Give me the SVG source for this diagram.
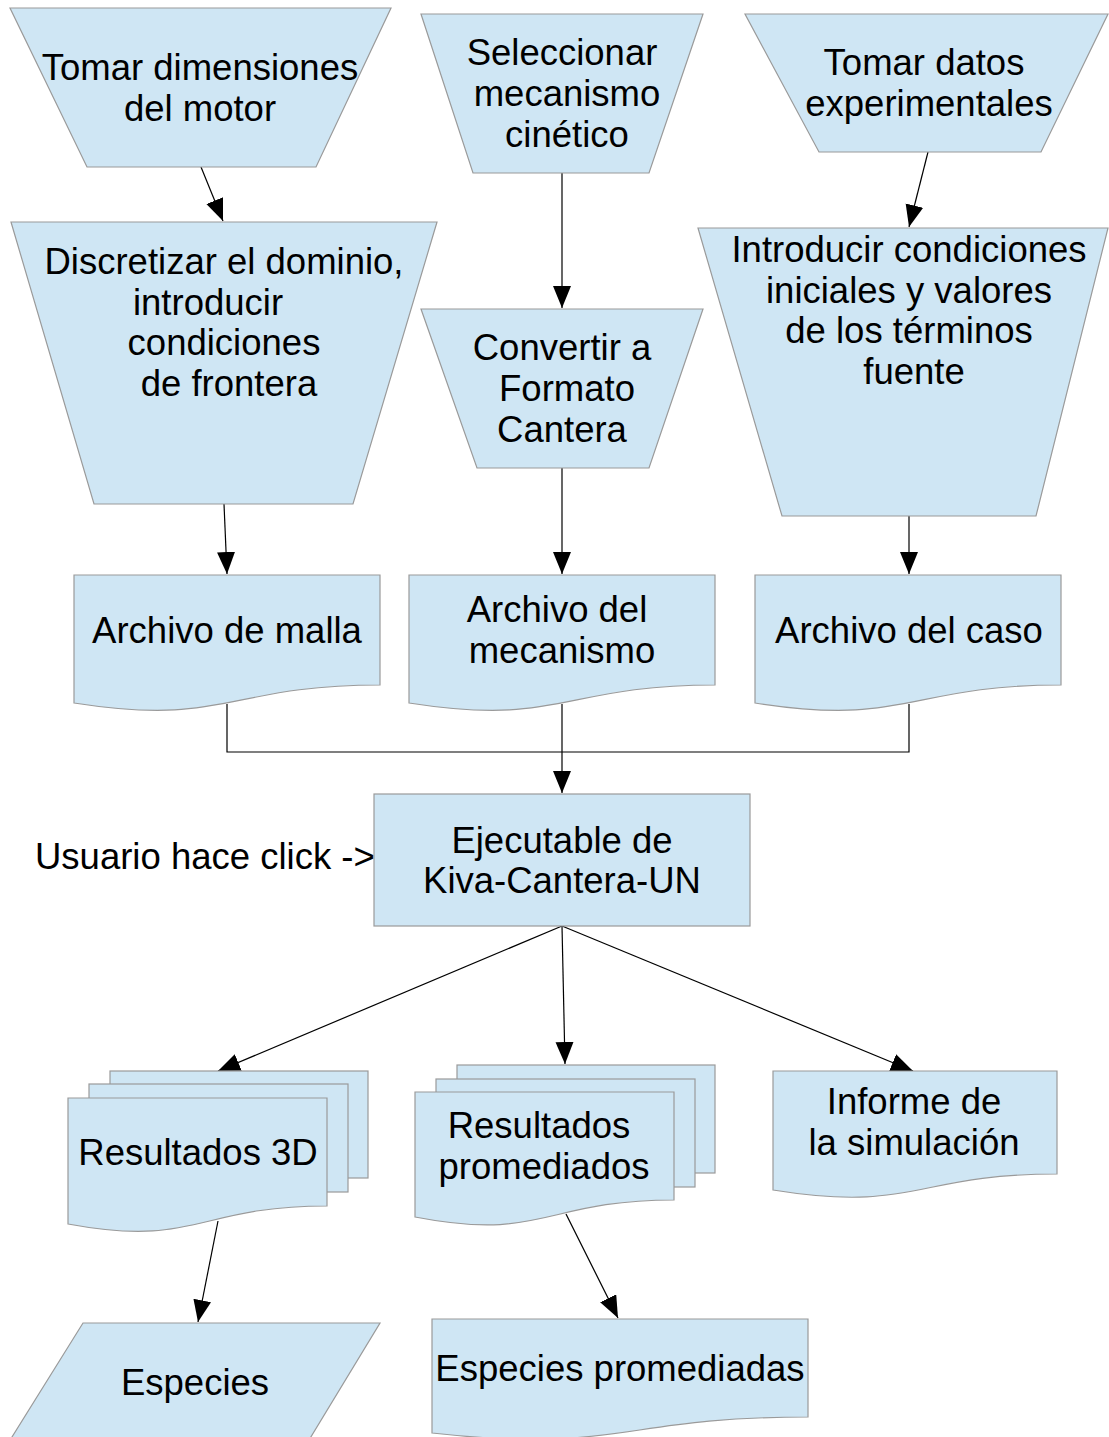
<svg xmlns="http://www.w3.org/2000/svg" width="1109" height="1437" viewBox="0 0 1109 1437">
  <defs>
    <marker id="arrow" markerUnits="userSpaceOnUse" markerWidth="24" markerHeight="20" refX="22" refY="9" orient="auto">
      <path d="M0,0 L22,9 L0,18 Z" fill="#000"/>
    </marker>
    <style>
      .shape { fill: #cfe6f4; stroke: #9a9a9a; stroke-width: 1.2; }
      .lbl { font-family: "Liberation Sans", Arial, sans-serif; font-size: 36.5px; fill: #000; text-anchor: middle; }
      .free { font-family: "Liberation Sans", Arial, sans-serif; font-size: 36.5px; fill: #000; }
      .conn { fill: none; stroke: #000; stroke-width: 1.2; }
    </style>
  </defs>
  <rect width="1109" height="1437" fill="#fff"/>

  <!-- connectors -->
  <g id="connectors">
    <line class="conn" x1="201" y1="167" x2="223" y2="221" marker-end="url(#arrow)"/>
    <line class="conn" x1="562" y1="173" x2="562" y2="308" marker-end="url(#arrow)"/>
    <line class="conn" x1="928" y1="152" x2="909" y2="227" marker-end="url(#arrow)"/>
    <line class="conn" x1="224" y1="504" x2="227" y2="574" marker-end="url(#arrow)"/>
    <line class="conn" x1="562" y1="468" x2="562" y2="574" marker-end="url(#arrow)"/>
    <line class="conn" x1="909" y1="516" x2="909" y2="574" marker-end="url(#arrow)"/>
    <polyline class="conn" points="227,704 227,752 909,752 909,704"/>
    <line class="conn" x1="562" y1="704" x2="562" y2="793" marker-end="url(#arrow)"/>
    <line class="conn" x1="562" y1="926" x2="218" y2="1071" marker-end="url(#arrow)"/>
    <line class="conn" x1="562" y1="926" x2="565" y2="1064" marker-end="url(#arrow)"/>
    <line class="conn" x1="562" y1="926" x2="913" y2="1071" marker-end="url(#arrow)"/>
    <line class="conn" x1="218" y1="1221" x2="198" y2="1322" marker-end="url(#arrow)"/>
    <line class="conn" x1="566" y1="1214" x2="618" y2="1318" marker-end="url(#arrow)"/>
  </g>

  <!-- manual operations (trapezoids) -->
  <g id="tomar-dimensiones">
    <polygon class="shape" points="10,8 391,8 316,167 87,167"/>
    <text class="lbl" x="200" y="80">Tomar dimensiones</text>
    <text class="lbl" x="200" y="121">del motor</text>
  </g>
  <g id="seleccionar-mecanismo">
    <polygon class="shape" points="421,14 703,14 649,173 473,173"/>
    <text class="lbl" x="562" y="65">Seleccionar</text>
    <text class="lbl" x="567" y="106">mecanismo</text>
    <text class="lbl" x="567" y="147">cinético</text>
  </g>
  <g id="tomar-datos">
    <polygon class="shape" points="745,14 1108,14 1041,152 819,152"/>
    <text class="lbl" x="924" y="75">Tomar datos</text>
    <text class="lbl" x="929" y="116">experimentales</text>
  </g>
  <g id="discretizar">
    <polygon class="shape" points="11,222 437,222 353,504 94,504"/>
    <text class="lbl" x="224" y="274">Discretizar el dominio,</text>
    <text class="lbl" x="208" y="315">introducir</text>
    <text class="lbl" x="224" y="355">condiciones</text>
    <text class="lbl" x="229" y="396">de frontera</text>
  </g>
  <g id="convertir">
    <polygon class="shape" points="421,309 703,309 649,468 477,468"/>
    <text class="lbl" x="562" y="360">Convertir a</text>
    <text class="lbl" x="567" y="401">Formato</text>
    <text class="lbl" x="562" y="442">Cantera</text>
  </g>
  <g id="introducir">
    <polygon class="shape" points="698,228 1108,228 1036,516 782,516"/>
    <text class="lbl" x="909" y="262">Introducir condiciones</text>
    <text class="lbl" x="909" y="303">iniciales y valores</text>
    <text class="lbl" x="909" y="343">de los términos</text>
    <text class="lbl" x="914" y="384">fuente</text>
  </g>

  <!-- documents -->
  <g id="archivo-malla">
    <path class="shape" d="M74,575 H380 V685 C227,685 227,727 74,703 Z"/>
    <text class="lbl" x="227" y="643">Archivo de malla</text>
  </g>
  <g id="archivo-mecanismo">
    <path class="shape" d="M409,575 H715 V685 C562,685 562,727 409,703 Z"/>
    <text class="lbl" x="557" y="622">Archivo del</text>
    <text class="lbl" x="562" y="663">mecanismo</text>
  </g>
  <g id="archivo-caso">
    <path class="shape" d="M755,575 H1061 V685 C908,685 908,727 755,703 Z"/>
    <text class="lbl" x="909" y="643">Archivo del caso</text>
  </g>

  <!-- process -->
  <g id="ejecutable">
    <rect class="shape" x="374" y="794" width="376" height="132"/>
    <text class="lbl" x="562" y="853">Ejecutable de</text>
    <text class="lbl" x="562" y="893">Kiva-Cantera-UN</text>
  </g>
  <text class="free" x="35" y="869">Usuario hace click -&gt;</text>

  <!-- multi-documents -->
  <g id="resultados-3d">
    <rect class="shape" x="110" y="1071" width="258" height="107"/>
    <rect class="shape" x="89" y="1084" width="259" height="108"/>
    <path class="shape" d="M68,1098 H327 V1206 C197,1206 197,1248 68,1224 Z"/>
    <text class="lbl" x="198" y="1165">Resultados 3D</text>
  </g>
  <g id="resultados-promediados">
    <rect class="shape" x="457" y="1065" width="258" height="108"/>
    <rect class="shape" x="436" y="1079" width="259" height="108"/>
    <path class="shape" d="M415,1092 H674 V1200 C544,1200 544,1242 415,1217 Z"/>
    <text class="lbl" x="539" y="1138">Resultados</text>
    <text class="lbl" x="544" y="1179">promediados</text>
  </g>
  <g id="informe">
    <path class="shape" d="M773,1071 H1057 V1174 C915,1174 915,1213 773,1190 Z"/>
    <text class="lbl" x="914" y="1114">Informe de</text>
    <text class="lbl" x="914" y="1155">la simulación</text>
  </g>

  <!-- outputs -->
  <g id="especies">
    <polygon class="shape" points="83,1323 380,1323 306,1445 7,1445"/>
    <text class="lbl" x="195" y="1395">Especies</text>
  </g>
  <g id="especies-promediadas">
    <path class="shape" d="M432,1319 H808 V1417 C620,1417 620,1454 432,1433 Z"/>
    <text class="lbl" x="620" y="1381">Especies promediadas</text>
  </g>
</svg>
